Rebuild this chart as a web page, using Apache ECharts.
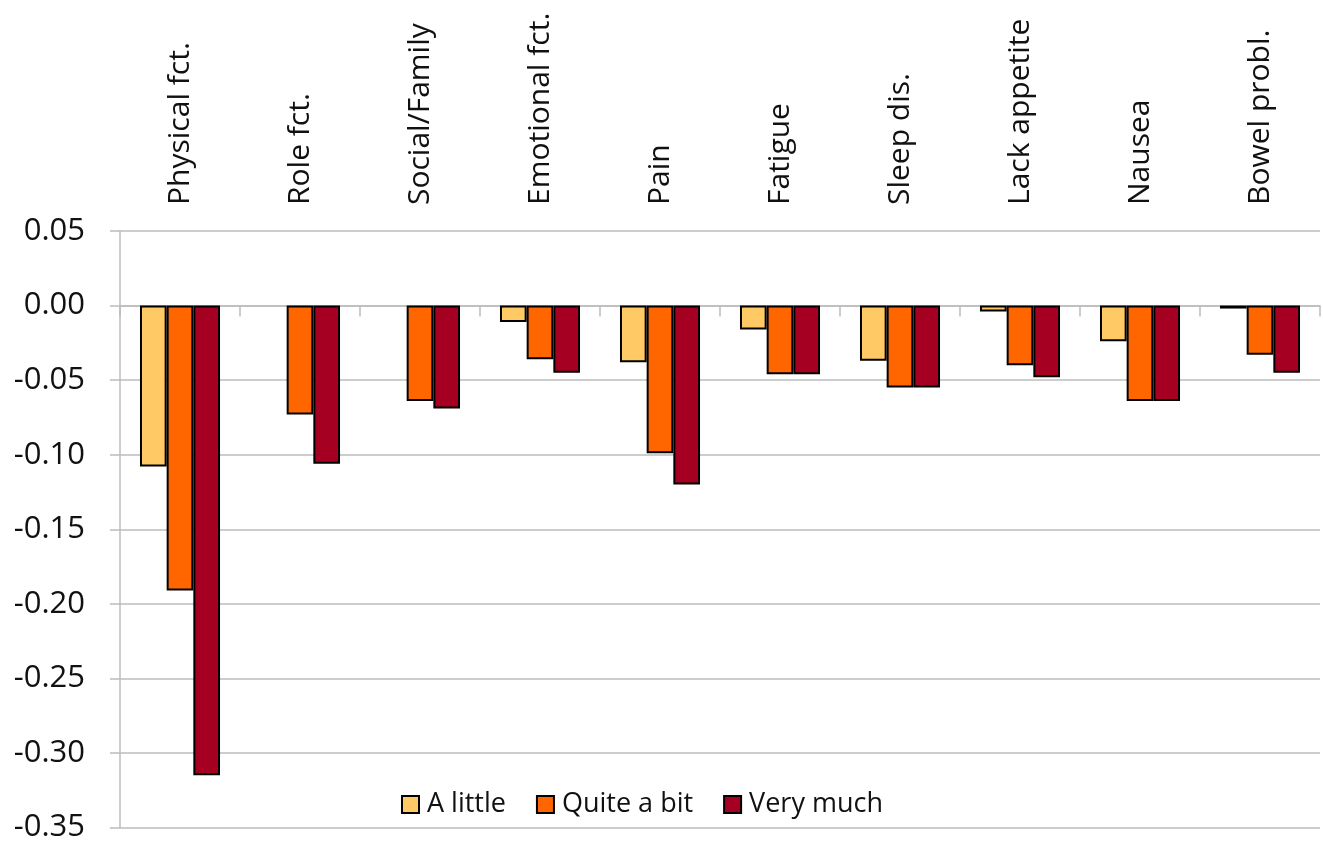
<!DOCTYPE html>
<html>
<head>
<meta charset="utf-8">
<style>
  html, body { margin: 0; padding: 0; background: #ffffff; }
  #chart { width: 1323px; height: 843px; }
</style>
<script src="https://cdn.jsdelivr.net/npm/echarts@6/dist/echarts.min.js"></script>
</head>
<body>
<div id="chart"></div>
<script>
// Quality-of-life domains
const categories = ['Physical fct.', 'Role fct.', 'Social/Family', 'Emotional fct.', 'Pain',
  'Fatigue', 'Sleep dis.', 'Lack appetite', 'Nausea', 'Bowel probl.'];

// Change per response level (null = no bar shown)
const aLittle   = [-0.108, null, null, -0.011, -0.038, -0.016, -0.037, -0.004, -0.024, -0.002];
const quiteABit = [-0.191, -0.073, -0.064, -0.036, -0.099, -0.046, -0.055, -0.040, -0.064, -0.033];
const veryMuch  = [-0.315, -0.106, -0.069, -0.045, -0.120, -0.046, -0.055, -0.048, -0.064, -0.045];

const seriesNames = ['A little', 'Quite a bit', 'Very much'];
const seriesColors = ['#FFC965', '#FF6600', '#A50021'];

const FONT = '"Open Sans", "Noto Sans", sans-serif';
const GRID_COLOR = '#bcbcbc';

const chart = echarts.init(document.getElementById('chart'), null, { renderer: 'canvas' });

const seriesData = [aLittle, quiteABit, veryMuch];

chart.setOption({
  backgroundColor: '#ffffff',
  animation: false,
  textStyle: { fontFamily: FONT, color: '#111' },
  grid: { left: 120, right: 3, top: 231, bottom: 14, containLabel: false },
  legend: {
    data: seriesNames,
    left: 396,
    top: 786,
    icon: 'rect',
    itemWidth: 17,
    itemHeight: 17,
    itemGap: 30,
    textStyle: { fontFamily: FONT, fontSize: 27, color: '#111', padding: [0, 0, 0, 3] }
  },
  xAxis: [
    {
      // category names across the top
      type: 'category',
      data: categories,
      position: 'top',
      axisLine: { show: false, onZero: false },
      axisTick: { show: false },
      axisLabel: {
        rotate: -90,
        margin: 26,
        fontFamily: FONT,
        fontSize: 30,
        color: '#111'
      }
    },
    {
      // baseline at zero with boundary ticks
      type: 'category',
      data: categories,
      position: 'bottom',
      axisLine: { show: true, onZero: true, lineStyle: { color: GRID_COLOR, width: 1.5 } },
      axisTick: { show: true, length: 11, lineStyle: { color: GRID_COLOR, width: 1.5 } },
      axisLabel: { show: false }
    }
  ],
  yAxis: {
    type: 'value',
    min: -0.35,
    max: 0.05,
    interval: 0.05,
    axisLine: { show: true, lineStyle: { color: GRID_COLOR, width: 1.5 } },
    axisTick: { show: true, length: 10, lineStyle: { color: GRID_COLOR, width: 1.5 } },
    splitLine: { show: true, lineStyle: { color: GRID_COLOR, width: 1.5 } },
    axisLabel: {
      margin: 35,
      fontFamily: FONT,
      fontSize: 31,
      color: '#111',
      formatter: v => (Math.abs(v) < 1e-9 ? 0 : v).toFixed(2)
    }
  },
  series: seriesNames.map((name, i) => ({
    name: name,
    type: 'bar',
    xAxisIndex: 0,
    data: seriesData[i],
    barGap: '0%',
    barCategoryGap: '33.3%',
    itemStyle: { color: seriesColors[i], borderColor: '#000', borderWidth: 2 }
  }))
});
</script>
</body>
</html>
